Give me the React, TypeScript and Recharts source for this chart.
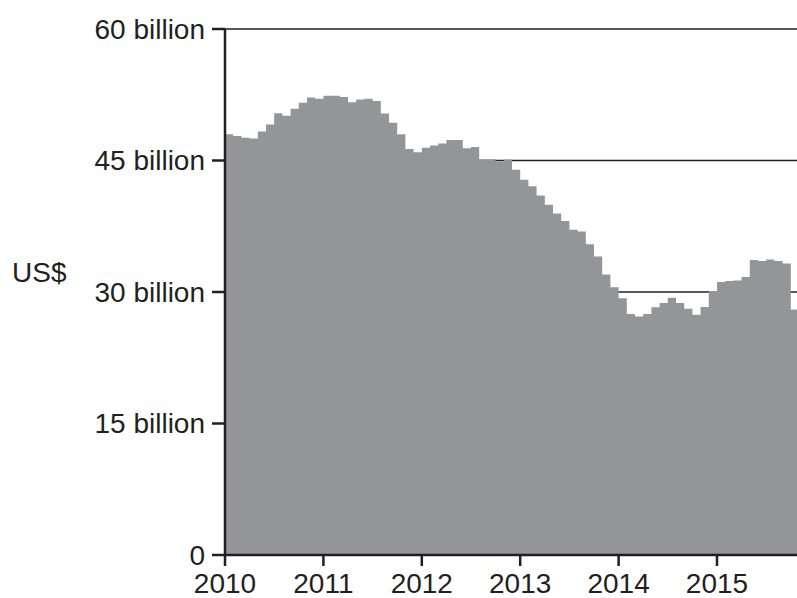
import { AreaChart, Area, XAxis, YAxis, CartesianGrid } from "recharts";

// monthly values, US$ billion, Jan 2010 .. Oct 2015
const values2010 = [48.0, 47.8, 47.6, 47.5, 48.3, 49.1, 50.4, 50.1, 50.9, 51.6, 52.2, 52.05];
const values2011 = [52.4, 52.4, 52.25, 51.65, 51.95, 52.05, 51.8, 50.35, 49.3, 48.0, 46.3, 45.95];
const values2012 = [46.45, 46.7, 46.95, 47.35, 47.35, 46.4, 46.55, 45.15, 45.15, 44.9, 45.1, 43.95];
const values2013 = [42.8, 42.05, 41.0, 39.95, 38.95, 38.1, 37.1, 36.9, 35.45, 34.05, 32.0, 30.55];
const values2014 = [29.3, 27.5, 27.2, 27.5, 28.25, 28.75, 29.35, 28.75, 28.1, 27.4, 28.3, 30.1];
const values2015 = [31.15, 31.25, 31.3, 31.7, 33.65, 33.55, 33.7, 33.55, 33.25, 28.0];

const yearLabels = ["2010", "2011", "2012", "2013", "2014", "2015"];
const yTicks = [0, 15, 30, 45, 60];
const yLabels = ["0", "15 billion", "30 billion", "45 billion", "60 billion"];

const values = [
  ...values2010,
  ...values2011,
  ...values2012,
  ...values2013,
  ...values2014,
  ...values2015,
];

// step starts at the beginning of each month; last month is closed at its end
const data = [
  ...values.map((v, i) => ({ t: i, v })),
  { t: values.length, v: values[values.length - 1] },
];
const yearTicks = yearLabels.map((_, i) => i * 12);

const ink = "#231f20";
const grey = "#939598";
const font = "'Liberation Sans', Arial, Helvetica, sans-serif";

export default function App() {
  return (
    <div
      style={{
        position: "absolute",
        left: 0,
        top: 0,
        width: 797,
        height: 598,
        overflow: "hidden",
        background: "#fff",
      }}
    >
      <AreaChart
        width={800}
        height={598}
        data={data}
        margin={{ top: 29, right: 1, bottom: 0, left: 0 }}
      >
        <CartesianGrid horizontal vertical={false} stroke={ink} strokeWidth={1.3} />
        <XAxis
          type="number"
          dataKey="t"
          domain={[0, values.length]}
          ticks={yearTicks}
          tickFormatter={(v) => yearLabels[v / 12]}
          height={43}
          tickSize={11}
          tickMargin={7}
          stroke={ink}
          strokeWidth={2.5}
          tick={{ fill: ink, fontSize: 28, fontFamily: font }}
        />
        <YAxis
          type="number"
          domain={[0, 60]}
          ticks={yTicks}
          tickFormatter={(v) => yLabels[yTicks.indexOf(v)]}
          width={225}
          tickSize={13}
          tickMargin={7}
          stroke={ink}
          strokeWidth={2.5}
          tick={{ fill: ink, fontSize: 28, fontFamily: font }}
          label={{
            value: "US$",
            position: "insideLeft",
            offset: 12,
            dy: -20,
            style: { fill: ink, fontSize: 28, fontFamily: font },
          }}
        />
        <Area
          type="stepAfter"
          dataKey="v"
          fill={grey}
          fillOpacity={1}
          stroke="none"
          isAnimationActive={false}
        />
      </AreaChart>
    </div>
  );
}
